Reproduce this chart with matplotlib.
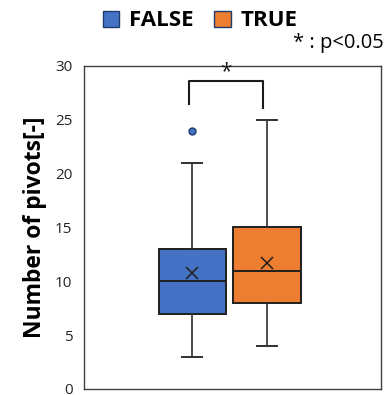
import matplotlib.pyplot as plt
from matplotlib.patches import Patch

plt.rcParams['font.family'] = ['Open Sans', 'DejaVu Sans']

# data
groups = ["FALSE", "TRUE"]
colors = ["#4472C4", "#ED7D31"]
whisker_low = [3, 4]
q1 = [7, 8]
median = [10, 11]
q3 = [13, 15]
whisker_high = [21, 25]
means = [10.8, 11.7]
outliers = [[24], []]
bracket_top = 28.6
bracket_legs = [26.5, 26.1]
y_ticks = [0, 5, 10, 15, 20, 25, 30]

positions = [1, 2]

fig = plt.figure(figsize=(3.85, 3.95), dpi=100)
ax = fig.add_axes([0.217, 0.0152, 0.773, 0.818])

stats = []
for i, g in enumerate(groups):
    stats.append(dict(label=g, whislo=whisker_low[i], q1=q1[i], med=median[i],
                      q3=q3[i], whishi=whisker_high[i], mean=means[i],
                      fliers=outliers[i]))

edge = "#1f1f1f"
bp = ax.bxp(stats, positions=positions, widths=0.9, capwidths=0.27,
            patch_artist=True, showmeans=True,
            boxprops=dict(edgecolor=edge, linewidth=1.4),
            medianprops=dict(color=edge, linewidth=1.4),
            whiskerprops=dict(color="#303030", linewidth=1.2),
            capprops=dict(color="#303030", linewidth=1.4),
            meanprops=dict(marker="x", markeredgecolor=edge, markersize=9,
                           markeredgewidth=1.1),
            flierprops=dict(marker="o", markerfacecolor=colors[0],
                            markeredgecolor="#1f3a6e", markersize=5))
for patch, c in zip(bp["boxes"], colors):
    patch.set_facecolor(c)

# significance bracket
bx = [positions[0] - 0.05, positions[1] - 0.05]
ax.plot([bx[0], bx[0], bx[1], bx[1]],
        [bracket_legs[0], bracket_top, bracket_top, bracket_legs[1]],
        color="#1a1a1a", linewidth=1.5)
ax.text(sum(bx) / 2, bracket_top - 0.1, "*", ha="center", va="bottom",
        fontsize=15, color="#1a1a1a")

ax.set_xlim(-0.456, 3.53)
ax.set_ylim(0, 30)
ax.set_yticks(y_ticks)
ax.set_xticks([])
ax.tick_params(axis="y", length=0, pad=8, labelsize=11, labelcolor="#262626")
for s in ax.spines.values():
    s.set_color("#404040")
    s.set_linewidth(1.0)

ax.set_ylabel("Number of pivots[-]", fontsize=16.5, fontweight="bold", labelpad=6)

handles = [Patch(facecolor=c, edgecolor="#1f3a6e", label=g) for g, c in zip(groups, colors)]
fig.legend(handles=handles, loc="center", bbox_to_anchor=(0.52, 0.947), ncol=2,
           frameon=False, handlelength=0.75, handleheight=0.75, handletextpad=0.45,
           columnspacing=0.9, prop=dict(weight="bold", size=16))

fig.text(0.997, 0.891, "* : p<0.05", ha="right", va="center", fontsize=14.5)

fig.savefig("out.png", dpi=100)
